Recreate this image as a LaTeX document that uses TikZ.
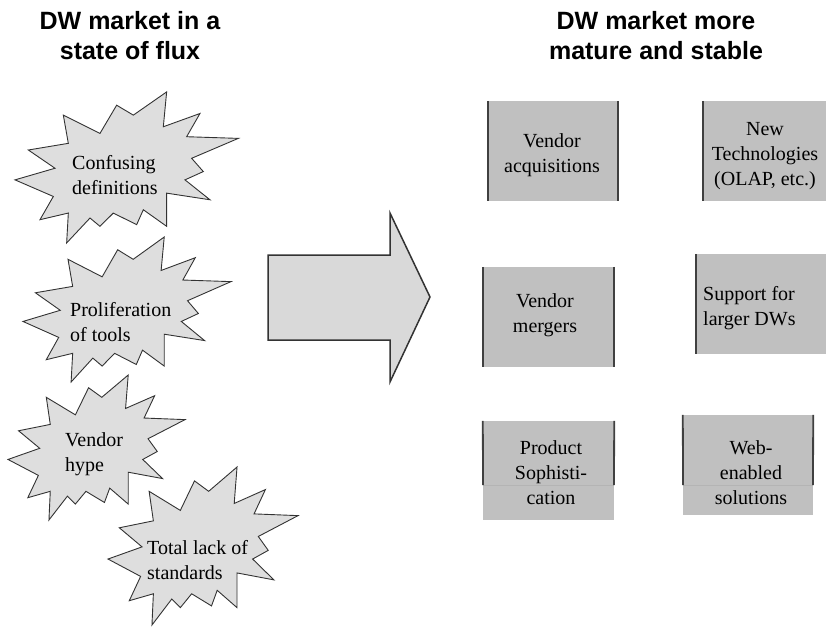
\documentclass[tikz,border=0pt]{standalone}
\usepackage{fontspec}
\setmainfont{Liberation Serif}
\newfontfamily\titlefont{Liberation Sans}
\definecolor{boxgray}{HTML}{C0C0C0}
\definecolor{burstgray}{HTML}{DEDEDE}
\definecolor{arrowgray}{HTML}{D9D9D9}
\definecolor{edgegray}{HTML}{333333}
\definecolor{sidegray}{HTML}{404040}
\definecolor{seamgray}{HTML}{B4B4B4}
\tikzset{
  titletext/.style={font=\titlefont\bfseries\fontsize{25}{30}\selectfont, align=center, inner sep=0pt},
  bodytext/.style={font=\fontsize{20}{25}\selectfont, inner sep=0pt},
  burstshape/.style={fill=burstgray, draw=edgegray, line width=0.9pt, line join=miter},
  boxfill/.style={fill=boxgray, draw=none, inner sep=0pt},
  sideline/.style={draw=sidegray, line width=1.8pt},
  seam/.style={draw=seamgray, line width=0.6pt},
  bigarrow/.style={fill=arrowgray, draw=edgegray, line width=1.5pt, line join=miter},
  burst/.pic={
    \draw[burstshape] (45,300) -- (165,265) -- (85,210) -- (205,190) -- (190,105) -- (300,160)
      -- (350,75) -- (400,105) -- (500,35) -- (490,140) -- (600,100) -- (560,170)
      -- (715,175) -- (575,235) -- (610,275) -- (555,300) -- (630,360) -- (500,340)
      -- (500,440) -- (430,390) -- (410,435) -- (340,400) -- (300,440) -- (270,415)
      -- (200,490) -- (205,400) -- (120,420) -- (160,350) -- cycle;
  }
}
\begin{document}
\begin{tikzpicture}[x=1pt,y=-1pt]
\useasboundingbox (0,0) rectangle (826,628);

% titles
\node[titletext] (title1) at (130,35.5) {DW market in a\\state of flux};
\node[titletext] (title2) at (656,35.5) {DW market more\\mature and stable};

% starbursts (template frame: x 45..715, y 35..490)
\pic (s1) [shift={(0,80.3)}, xscale=0.3333, yscale=0.3319] {burst};
\pic (s2) [shift={(23-45*0.3104,237-35*0.3187)}, xscale=0.3104, yscale=0.3187] {burst};
\pic (s3) [shift={(8-45*0.2642,375-35*0.3187)}, xscale=0.2642, yscale=0.3187] {burst};
\pic (s4) [shift={(108-45*0.2836,467-35*0.3473)}, xscale=0.2836, yscale=0.3473] {burst};

\node[bodytext, align=left, anchor=west] (b1) at (72,175.5) {Confusing\\definitions};
\node[bodytext, align=left, anchor=west] (b2) at (70,322) {Proliferation\\of tools};
\node[bodytext, align=left, anchor=west] (b3) at (65,454) {Vendor\\hype};
\node[bodytext, align=left, anchor=west] (b4) at (147,560) {Total lack of\\standards};

% big arrow
\draw[bigarrow] (268,255) -- (390,255) -- (390,213) -- (430,297) -- (390,382)
  -- (390,340) -- (268,340) -- cycle;

% right-hand boxes
\node[boxfill, minimum width=130pt, minimum height=100pt] (r1) at (553,151) {};
\draw[sideline] (r1.north west) -- (r1.south west);
\draw[sideline] (r1.north east) -- (r1.south east);
\node[bodytext, align=center] (t1) at (552,155) {Vendor\\acquisitions};

\node[boxfill, minimum width=123pt, minimum height=100pt] (r2) at (764.5,151) {};
\draw[sideline] (r2.north west) -- (r2.south west);
\node[bodytext, align=center] (t2) at (765,156) {New\\Technologies\\(OLAP, etc.)};

\node[boxfill, minimum width=131pt, minimum height=100pt] (r3) at (548.5,317) {};
\draw[sideline] (r3.north west) -- (r3.south west);
\draw[sideline] (r3.north east) -- (r3.south east);
\node[bodytext, align=center] (t3) at (545,315) {Vendor\\mergers};

\node[boxfill, minimum width=130pt, minimum height=100pt] (r4) at (761,304) {};
\draw[sideline] (r4.north west) -- (r4.south west);
\draw[seam] (r4.north east) -- (r4.south east);
\node[bodytext, align=left, anchor=west] (t4) at (703,308) {Support for\\larger DWs};

\node[boxfill, minimum width=131pt, minimum height=99pt] (r5) at (548.5,470.5) {};
\coordinate (r5l) at (483,485);
\coordinate (r5r) at (614,485);
\draw[seam] (r5l) -- (r5r);
\draw[sideline] (r5.north west) -- (r5l);
\draw[sideline] (r5.north east) -- (r5r);
\node[bodytext, align=center] (t5) at (551,473) {Product\\Sophisti-\\cation};

\node[boxfill, minimum width=130pt, minimum height=100pt] (r6) at (748,465) {};
\coordinate (r6l) at (683,485);
\coordinate (r6r) at (813,485);
\draw[seam] (r6l) -- (r6r);
\draw[sideline] (r6.north west) -- (r6l);
\draw[sideline] (r6.north east) -- (r6r);
\node[bodytext, align=center] (t6) at (751,473) {Web-\\enabled\\solutions};
\end{tikzpicture}
\end{document}
